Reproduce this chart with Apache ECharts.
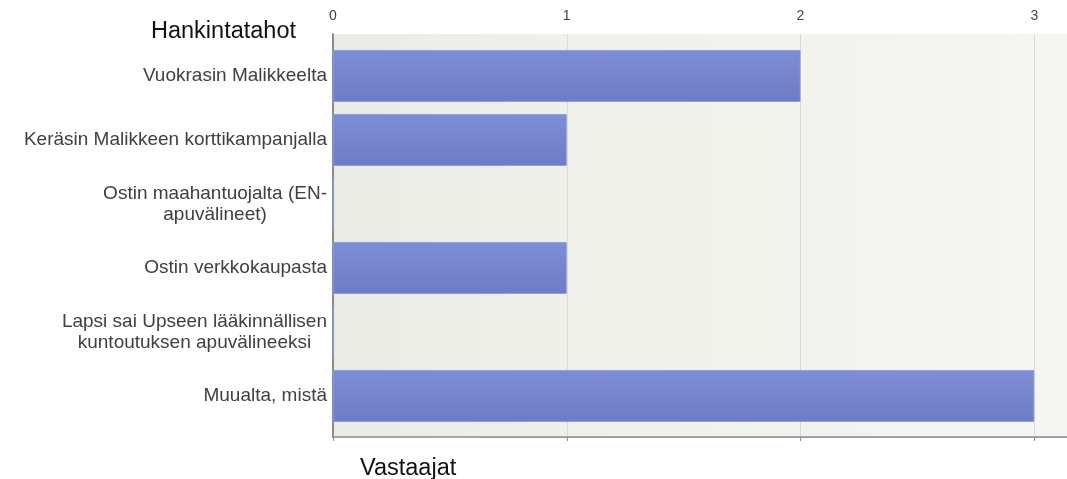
<!DOCTYPE html>
<html>
<head>
<meta charset="utf-8">
<script src="https://cdn.jsdelivr.net/npm/echarts@6/dist/echarts.min.js"></script>
<style>
  html, body { margin: 0; padding: 0; background: #ffffff; }
  #chart { width: 1067px; height: 479px; }
</style>
</head>
<body>
<div id="chart"></div>
<script>
// Acquisition channels and respondent counts
const categories = [
  'Vuokrasin Malikkeelta',
  'Keräsin Malikkeen korttikampanjalla',
  'Ostin maahantuojalta (EN-\napuvälineet)',
  'Ostin verkkokaupasta',
  'Lapsi sai Upseen lääkinnällisen\nkuntoutuksen apuvälineeksi',
  'Muualta, mistä'
];
const respondents = [2, 1, 0, 1, 0, 3];
const axisMin = 0;
const axisMax = 3.14;
const tickStep = 1;
const categoryTitle = 'Hankintatahot';
const valueTitle = 'Vastaajat';

const FONT = '"Liberation Sans", Arial, sans-serif';

const chart = echarts.init(document.getElementById('chart'), null, { renderer: 'canvas' });

chart.setOption({
  animation: false,
  backgroundColor: '#ffffff',
  title: [
    { text: categoryTitle, left: 146, top: 15,
      textStyle: { fontFamily: FONT, fontSize: 23.5, fontWeight: 'normal', color: '#111' } },
    { text: valueTitle, left: 355, top: 452,
      textStyle: { fontFamily: FONT, fontSize: 23.5, fontWeight: 'normal', color: '#111' } }
  ],
  grid: [
    // frame grid: background, top axis, gridlines, left axis line
    { left: 333, right: 0, top: 34, bottom: 42, show: true, borderWidth: 0,
      backgroundColor: {
        type: 'linear', x: 0, y: 0, x2: 1, y2: 0,
        colorStops: [
          { offset: 0, color: '#e9ebe4' },
          { offset: 0.32, color: '#eef0e9' },
          { offset: 1, color: '#f5f6f2' }
        ]
      } },
    // bars grid
    { left: 333, right: 0, top: 44, bottom: 51 }
  ],
  xAxis: [
    { type: 'value', gridIndex: 0, position: 'top', min: axisMin, max: axisMax, interval: tickStep,
      axisLine: { show: true, lineStyle: { color: '#8c8c8c', width: 1.5 } },
      axisTick: { show: true, inside: true, length: 4, lineStyle: { color: '#8c8c8c' } },
      axisLabel: { show: true, showMaxLabel: false, margin: 11, fontFamily: FONT, fontSize: 14, color: '#444' },
      splitLine: { show: true, lineStyle: { color: '#d8dad4', width: 1 } } },
    { type: 'value', gridIndex: 1, min: axisMin, max: axisMax, interval: tickStep, show: false }
  ],
  yAxis: [
    { type: 'value', gridIndex: 0, min: 0, max: 1,
      axisLine: { show: true, lineStyle: { color: '#8c8c8c', width: 2 } },
      axisTick: { show: false }, axisLabel: { show: false }, splitLine: { show: false } },
    { type: 'category', gridIndex: 1, inverse: true, data: categories,
      axisLine: { show: false }, axisTick: { show: false }, splitLine: { show: false },
      axisLabel: {
        margin: 6,
        fontFamily: FONT, fontSize: 19, color: '#404040', lineHeight: 21,
        formatter: function (v) {
          return v.split('\n').map(function (s) { return '{c|' + s + '}'; }).join('\n');
        },
        rich: { c: { align: 'center', fontFamily: FONT, fontSize: 19, color: '#404040', lineHeight: 21 } }
      } }
  ],
  series: [
    { type: 'bar', xAxisIndex: 1, yAxisIndex: 1, data: respondents,
      barCategoryGap: '19%',
      itemStyle: {
        color: {
          type: 'linear', x: 0, y: 0, x2: 0, y2: 1,
          colorStops: [
            { offset: 0, color: '#7d8ed7' },
            { offset: 1, color: '#6d7cc4' }
          ]
        },
        borderColor: '#8a99dc', borderWidth: 0.8
      } }
  ],
  graphic: [
    { type: 'line', shape: { x1: 480, y1: 437.5, x2: 1067, y2: 437.5 },
      style: { stroke: '#9a9a9a', lineWidth: 1.2 }, z: 10 }
  ]
});
</script>
</body>
</html>
